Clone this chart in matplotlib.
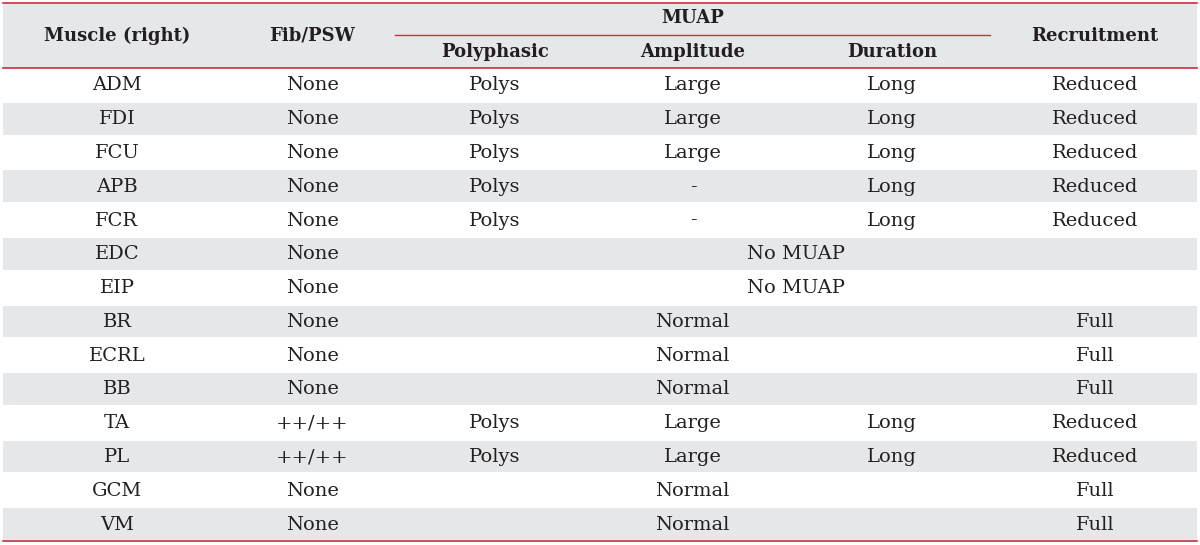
import matplotlib.pyplot as plt
from matplotlib.patches import Rectangle

muscles = ["ADM", "FDI", "FCU", "APB", "FCR", "EDC", "EIP", "BR", "ECRL", "BB", "TA", "PL", "GCM", "VM"]
fib_psw = ["None", "None", "None", "None", "None", "None", "None", "None", "None", "None", "++/++", "++/++", "None", "None"]
polyphasic = ["Polys", "Polys", "Polys", "Polys", "Polys", None, None, None, None, None, "Polys", "Polys", None, None]
amplitude = ["Large", "Large", "Large", "-", "-", None, None, None, None, None, "Large", "Large", None, None]
duration = ["Long", "Long", "Long", "Long", "Long", None, None, None, None, None, "Long", "Long", None, None]
recruitment = ["Reduced", "Reduced", "Reduced", "Reduced", "Reduced", None, None, "Full", "Full", "Full",
               "Reduced", "Reduced", "Full", "Full"]
# merged cells: (row, text, first column, last column)
merged = {5: ("No MUAP", 2, 5), 6: ("No MUAP", 2, 5),
          7: ("Normal", 2, 4), 8: ("Normal", 2, 4), 9: ("Normal", 2, 4),
          12: ("Normal", 2, 4), 13: ("Normal", 2, 4)}
headers = ["Muscle (right)", "Fib/PSW", "Polyphasic", "Amplitude", "Duration", "Recruitment"]

RED = "#c8303c"
GRAY = "#e6e7e8"
INK = "#231f20"
col_edges = [3, 232, 395, 595, 792, 990, 1197]
col_centers = [117, 312, 495, 693, 892, 1095]
top, head_bot, bottom = 3, 68, 541
row_h = (bottom - head_bot) / len(muscles)

fig = plt.figure(figsize=(12, 5.45), dpi=100)
ax = fig.add_axes([0, 0, 1, 1])
ax.set_xlim(0, 1200)
ax.set_ylim(545, 0)
ax.axis("off")

serif = "DejaVu Serif"
fs = 14
hfs = 13

# header band
ax.add_patch(Rectangle((col_edges[0], top), col_edges[-1] - col_edges[0], head_bot - top, color=GRAY, lw=0))
ax.plot([col_edges[0], col_edges[-1]], [top, top], color=RED, lw=1.2)
ax.plot([col_edges[0], col_edges[-1]], [head_bot, head_bot], color=RED, lw=1.2)
ax.plot([col_edges[2], col_edges[5]], [35, 35], color=RED, lw=1.0)
ax.text(693, 18, "MUAP", ha="center", va="center", fontsize=hfs, fontweight="bold", family=serif, color=INK)
for i, h in enumerate(headers):
    y = 36 if i in (0, 1, 5) else 52
    ax.text(col_centers[i], y, h, ha="center", va="center", fontsize=hfs, fontweight="bold", family=serif, color=INK)

columns = [muscles, fib_psw, polyphasic, amplitude, duration, recruitment]
for r in range(len(muscles)):
    y0 = head_bot + r * row_h
    yc = y0 + row_h / 2 + 0.5
    if r % 2 == 1:
        ax.add_patch(Rectangle((col_edges[0], y0 + 1), col_edges[-1] - col_edges[0], row_h - 2, color=GRAY, lw=0))
    for c, col in enumerate(columns):
        if col[r] is not None:
            ax.text(col_centers[c], yc, col[r], ha="center", va="center", fontsize=fs, family=serif, color=INK)
    if r in merged:
        txt, c0, c1 = merged[r]
        xc = (col_edges[c0] + col_edges[c1 + 1]) / 2
        ax.text(xc, yc, txt, ha="center", va="center", fontsize=fs, family=serif, color=INK)

ax.plot([col_edges[0], col_edges[-1]], [bottom, bottom], color=RED, lw=1.2)

fig.savefig("out.png", dpi=100)
